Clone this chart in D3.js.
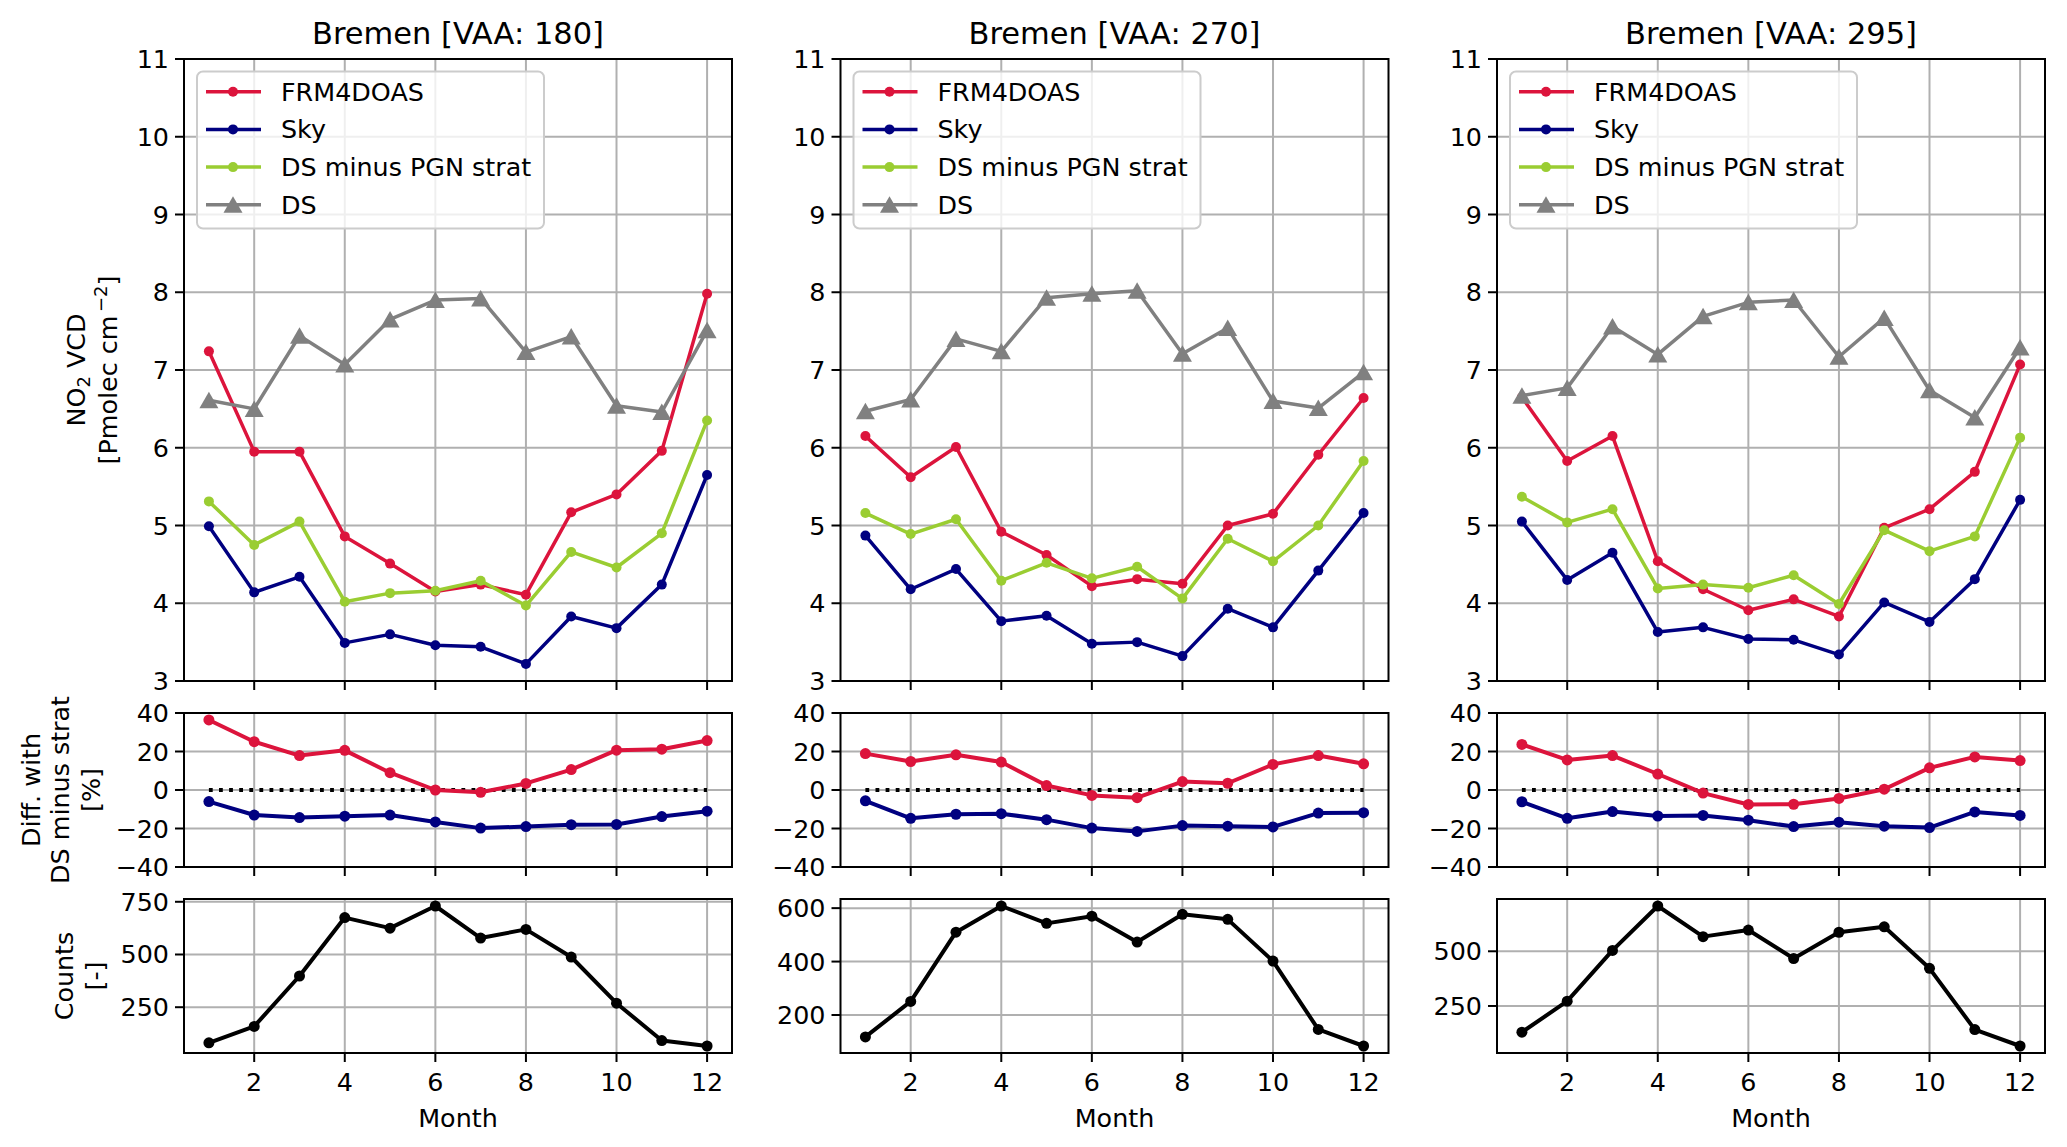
<!DOCTYPE html>
<html><head><meta charset="utf-8">
<script src="https://cdn.jsdelivr.net/npm/d3@7"></script>
<style>html,body{margin:0;padding:0;background:#fff;}svg{display:block;font-family:"DejaVu Sans",sans-serif;}</style>
</head><body>
<svg id="chart" width="2067" height="1147"></svg>
<script>
// ---------------- DATA ----------------
const months = [1,2,3,4,5,6,7,8,9,10,11,12];
const panelTitles = ["Bremen [VAA: 180]", "Bremen [VAA: 270]", "Bremen [VAA: 295]"];
const seriesNames = ["FRM4DOAS", "Sky", "DS minus PGN strat", "DS"];
const seriesColors = ["#dc143c", "#000080", "#9acd32", "#808080"];

// NO2 VCD [Pmolec cm-2]
const frm180 = [7.24,5.95,5.95,4.86,4.51,4.15,4.24,4.11,5.17,5.40,5.96,7.98];
const sky180 = [4.99,4.14,4.34,3.49,3.60,3.46,3.44,3.22,3.83,3.68,4.24,5.65];
const dsm180 = [5.31,4.75,5.05,4.02,4.13,4.16,4.29,3.97,4.66,4.46,4.90,6.35];
const ds180  = [6.61,6.50,7.44,7.07,7.65,7.90,7.92,7.23,7.43,6.54,6.46,7.51];

const frm270 = [6.15,5.62,6.01,4.92,4.62,4.22,4.31,4.25,5.00,5.15,5.91,6.64];
const sky270 = [4.87,4.18,4.44,3.77,3.84,3.48,3.50,3.32,3.93,3.69,4.42,5.16];
const dsm270 = [5.16,4.89,5.08,4.29,4.52,4.32,4.47,4.06,4.83,4.54,5.00,5.83];
const ds270  = [6.47,6.62,7.40,7.24,7.93,7.98,8.02,7.21,7.54,6.60,6.51,6.97];

const frm295 = [6.65,5.83,6.15,4.54,4.18,3.91,4.05,3.83,4.97,5.21,5.69,7.07];
const sky295 = [5.05,4.30,4.65,3.63,3.69,3.54,3.53,3.34,4.01,3.76,4.31,5.33];
const dsm295 = [5.37,5.04,5.21,4.19,4.24,4.20,4.36,3.99,4.94,4.67,4.86,6.13];
const ds295  = [6.67,6.77,7.56,7.20,7.69,7.87,7.90,7.17,7.67,6.74,6.39,7.29];

// Difference with DS minus strat [%]
const diffFrm180 = [36.4,25.1,17.9,20.6,9.0,0.0,-1.2,3.4,10.6,20.7,21.2,25.7];
const diffSky180 = [-6.0,-13.0,-14.3,-13.6,-13.0,-16.6,-19.8,-19.0,-18.0,-17.9,-13.8,-11.0];
const diffFrm270 = [18.9,14.8,18.3,14.5,2.3,-2.8,-4.0,4.4,3.5,13.3,17.9,13.6];
const diffSky270 = [-5.6,-14.7,-12.6,-12.3,-15.4,-19.8,-21.5,-18.5,-18.8,-19.2,-12.0,-11.8];
const diffFrm295 = [23.7,15.6,17.9,8.3,-1.6,-7.5,-7.4,-4.4,0.4,11.5,17.2,15.3];
const diffSky295 = [-6.1,-14.7,-11.2,-13.5,-13.2,-15.7,-19.0,-16.7,-18.8,-19.5,-11.4,-13.2];

// Counts [-]
const counts180 = [81,159,398,675,625,730,578,619,488,269,92,66];
const counts270 = [118,251,510,608,543,570,473,577,558,402,146,84];
const counts295 = [130,272,504,707,567,597,467,587,612,422,142,67];

// Tick labels
const xTicks = [2,4,6,8,10,12];
const mainTicks = [3,4,5,6,7,8,9,10,11];
const diffTicks = [-40,-20,0,20,40];
const countTicks180 = [250,500,750];
const countTicks270 = [200,400,600];
const countTicks295 = [250,500];

const panels = [
  {title: panelTitles[0], lines: [frm180, sky180, dsm180, ds180], diff: [diffFrm180, diffSky180], counts: counts180, cTicks: countTicks180},
  {title: panelTitles[1], lines: [frm270, sky270, dsm270, ds270], diff: [diffFrm270, diffSky270], counts: counts270, cTicks: countTicks270},
  {title: panelTitles[2], lines: [frm295, sky295, dsm295, ds295], diff: [diffFrm295, diffSky295], counts: counts295, cTicks: countTicks295}
];

// ---------------- LAYOUT ----------------
const svg = d3.select("#chart");
const FS = 25.4, TFS = 30.5;
const panelLeft = [184, 840.5, 1497];
const PW = 548;
const mainBox = [59, 681], diffBox = [713, 867], cntBox = [899, 1053];
const gridColor = "#b0b0b0";
const TRI = "M0,-8.5 L9.5,8 L-9.5,8 Z";

function drawGrid(g, x, y, top, bottom, left, yt) {
  g.append("g").selectAll("line").data(xTicks).join("line")
    .attr("x1", d => x(d)).attr("x2", d => x(d)).attr("y1", top).attr("y2", bottom)
    .attr("stroke", gridColor).attr("stroke-width", 2);
  g.append("g").selectAll("line").data(yt).join("line")
    .attr("x1", left).attr("x2", left + PW).attr("y1", d => y(d)).attr("y2", d => y(d))
    .attr("stroke", gridColor).attr("stroke-width", 2);
}
function drawSpines(g, x, y, top, bottom, left, yt, showX) {
  g.append("rect").attr("x", left).attr("y", top).attr("width", PW).attr("height", bottom - top)
    .attr("fill", "none").attr("stroke", "#000").attr("stroke-width", 2);
  g.append("g").selectAll("line").data(yt).join("line")
    .attr("x1", left - 9).attr("x2", left).attr("y1", d => y(d)).attr("y2", d => y(d))
    .attr("stroke", "#000").attr("stroke-width", 2);
  g.append("g").selectAll("text").data(yt).join("text")
    .attr("x", left - 15).attr("y", d => y(d) + 9).attr("text-anchor", "end")
    .attr("font-size", FS).text(d => d < 0 ? "\u2212" + Math.abs(d) : d);
  g.append("g").selectAll("line").data(xTicks).join("line")
    .attr("x1", d => x(d)).attr("x2", d => x(d)).attr("y1", bottom).attr("y2", bottom + 9)
    .attr("stroke", "#000").attr("stroke-width", 2);
  if (showX) {
    g.append("g").selectAll("text").data(xTicks).join("text")
      .attr("x", d => x(d)).attr("y", bottom + 38).attr("text-anchor", "middle")
      .attr("font-size", FS).text(d => d);
    g.append("text").attr("x", left + PW / 2).attr("y", bottom + 74).attr("text-anchor", "middle")
      .attr("font-size", FS).text("Month");
  }
}
function drawSeries(g, x, y, vals, color, lw, r, tri) {
  const line = d3.line().x((d, i) => x(months[i])).y(d => y(d));
  g.append("path").datum(vals).attr("d", line).attr("fill", "none")
    .attr("stroke", color).attr("stroke-width", lw).attr("stroke-linejoin", "round");
  if (tri) {
    g.append("g").selectAll("path").data(vals).join("path")
      .attr("transform", (d, i) => `translate(${x(months[i])},${y(d)})`)
      .attr("d", TRI).attr("fill", color);
  } else {
    g.append("g").selectAll("circle").data(vals).join("circle")
      .attr("cx", (d, i) => x(months[i])).attr("cy", d => y(d)).attr("r", r).attr("fill", color);
  }
}

panels.forEach((p, k) => {
  const left = panelLeft[k];
  const g = svg.append("g");
  const x = d3.scaleLinear().domain([0.45, 12.55]).range([left, left + PW]);

  // ---- main panel ----
  const yM = d3.scaleLinear().domain([3, 11]).range([mainBox[1], mainBox[0]]);
  drawGrid(g, x, yM, mainBox[0], mainBox[1], left, mainTicks);
  [0, 1, 2, 3].forEach(s => drawSeries(g, x, yM, p.lines[s], seriesColors[s], 3.5, 5, s === 3));
  drawSpines(g, x, yM, mainBox[0], mainBox[1], left, mainTicks, false);
  g.append("text").attr("x", left + PW / 2).attr("y", 44).attr("text-anchor", "middle")
    .attr("font-size", TFS).text(p.title);

  // legend
  const lg = g.append("g");
  lg.append("rect").attr("x", left + 13).attr("y", 71.5).attr("width", 347).attr("height", 157)
    .attr("rx", 6).attr("fill", "#fff").attr("fill-opacity", 0.8)
    .attr("stroke", "#cccccc").attr("stroke-width", 2);
  seriesNames.forEach((name, s) => {
    const cy = 91.7 + s * 37.7;
    lg.append("line").attr("x1", left + 22).attr("x2", left + 77).attr("y1", cy).attr("y2", cy)
      .attr("stroke", seriesColors[s]).attr("stroke-width", 3.5);
    if (s === 3) {
      lg.append("path").attr("transform", `translate(${left + 49},${cy})`)
        .attr("d", TRI).attr("fill", seriesColors[s]);
    } else {
      lg.append("circle").attr("cx", left + 49).attr("cy", cy).attr("r", 5).attr("fill", seriesColors[s]);
    }
    lg.append("text").attr("x", left + 97).attr("y", cy + 9).attr("font-size", FS).text(name);
  });

  // ---- diff panel ----
  const yD = d3.scaleLinear().domain([-40, 40]).range([diffBox[1], diffBox[0]]);
  drawGrid(g, x, yD, diffBox[0], diffBox[1], left, diffTicks);
  g.append("line").attr("x1", x(months[0])).attr("x2", x(months[11])).attr("y1", yD(0)).attr("y2", yD(0))
    .attr("stroke", "#000").attr("stroke-width", 3.8).attr("stroke-dasharray", "3.8,6.3");
  drawSeries(g, x, yD, p.diff[0], seriesColors[0], 4, 5.5, false);
  drawSeries(g, x, yD, p.diff[1], seriesColors[1], 4, 5.5, false);
  drawSpines(g, x, yD, diffBox[0], diffBox[1], left, diffTicks, false);

  // ---- counts panel ----
  const [cmin, cmax] = d3.extent(p.counts);
  const m = (cmax - cmin) * 0.05;
  const yC = d3.scaleLinear().domain([cmin - m, cmax + m]).range([cntBox[1], cntBox[0]]);
  drawGrid(g, x, yC, cntBox[0], cntBox[1], left, p.cTicks);
  drawSeries(g, x, yC, p.counts, "#000", 4, 5.5, false);
  drawSpines(g, x, yC, cntBox[0], cntBox[1], left, p.cTicks, true);
});

// ---- y axis labels (left column only) ----
function vlabel(xBase, yc, build) {
  const t = svg.append("text").attr("x", xBase).attr("y", yc).attr("text-anchor", "middle")
    .attr("font-size", FS).attr("transform", `rotate(-90,${xBase},${yc})`);
  build(t);
}
const mainCy = (mainBox[0] + mainBox[1]) / 2;
vlabel(85, mainCy, t => {
  t.append("tspan").text("NO");
  t.append("tspan").attr("font-size", 18).attr("dy", 5).text("2");
  t.append("tspan").attr("dy", -5).text(" VCD");
});
vlabel(117, mainCy, t => {
  t.append("tspan").text("[Pmolec cm");
  t.append("tspan").attr("font-size", 18).attr("dy", -10).text("\u2009\u22122");
  t.append("tspan").attr("dy", 10).text("]");
});
const diffCy = (diffBox[0] + diffBox[1]) / 2;
vlabel(40, diffCy, t => t.text("Diff. with"));
vlabel(69, diffCy, t => t.text("DS minus strat"));
vlabel(100, diffCy, t => t.text("[%]"));
const cntCy = (cntBox[0] + cntBox[1]) / 2;
vlabel(73, cntCy, t => t.text("Counts"));
vlabel(104, cntCy, t => t.text("[-]"));
</script>
</body></html>
